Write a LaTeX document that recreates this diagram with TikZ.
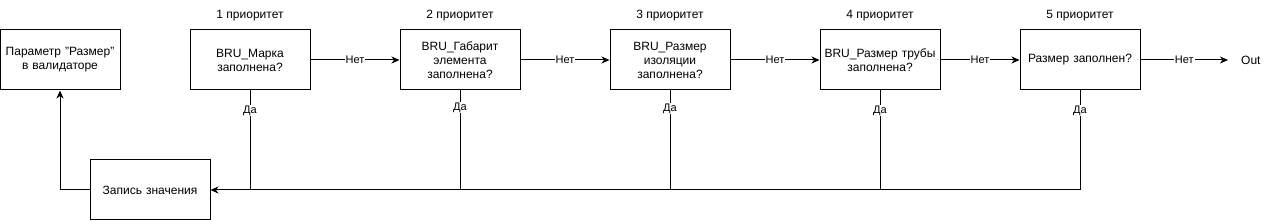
\documentclass[tikz,border=0pt]{standalone}
\usepackage{fontspec}
\setmainfont{Liberation Sans}
\usetikzlibrary{arrows.meta}

\begin{document}
\begin{tikzpicture}[x=1pt,y=-1pt,
  box/.style={draw,line width=1pt,minimum width=120pt,minimum height=60pt,
    text width=116pt,align=center,inner sep=0pt,font=\fontsize{12}{14}\selectfont},
  line/.style={line width=1pt},
  arr/.style={line width=1pt,-{Stealth[length=8pt,width=7pt,inset=2.5pt]}},
  lbl/.style={fill=white,inner sep=1pt,font=\fontsize{11}{13}\selectfont},
  prio/.style={font=\fontsize{12}{14}\selectfont}]
\useasboundingbox (0,0) rectangle (1281,221);
% boxes
\node[box] (par) at (60,60) {Параметр "Размер"\\в валидаторе};
\node[box] (b1) at (250,60) {BRU\_Марка\\заполнена?};
\node[box] (b2) at (460,60) {BRU\_Габарит\\элемента\\заполнена?};
\node[box] (b3) at (670,60) {BRU\_Размер\\изоляции\\заполнена?};
\node[box] (b4) at (880,60) {BRU\_Размер трубы\\заполнена?};
\node[box] (b5) at (1080,60) {Размер заполнен?};
\node[box] (rec) at (150,190) {Запись значения};
\node[anchor=west,inner xsep=13pt,prio] (out) at (1228,60) {Out};
% priorities
\node[prio] at (250,16) {1 приоритет};
\node[prio] at (460,16) {2 приоритет};
\node[prio] at (670,16) {3 приоритет};
\node[prio] at (880,16) {4 приоритет};
\node[prio] at (1080,16) {5 приоритет};
% no-branches
\draw[arr] (b1) -- node[lbl] {Нет} (b2);
\draw[arr] (b2) -- node[lbl] {Нет} (b3);
\draw[arr] (b3) -- node[lbl] {Нет} (b4);
\draw[arr] (b4) -- node[lbl] {Нет} (b5);
\draw[arr] (b5) -- node[lbl] {Нет} (out);
% yes-branches
\draw[arr] (b5.south) |- node[lbl,pos=0.1] {Да} (rec.east);
\draw[line] (b1.south) -- node[lbl,pos=0.2] {Да} (b1.south |- rec.east);
\draw[line] (b2.south) -- node[lbl,pos=0.17] {Да} (b2.south |- rec.east);
\draw[line] (b3.south) -- node[lbl,pos=0.18] {Да} (b3.south |- rec.east);
\draw[line] (b4.south) -- node[lbl,pos=0.2] {Да} (b4.south |- rec.east);
\draw[arr] (rec.west) -| (par.south);
\end{tikzpicture}
\end{document}
